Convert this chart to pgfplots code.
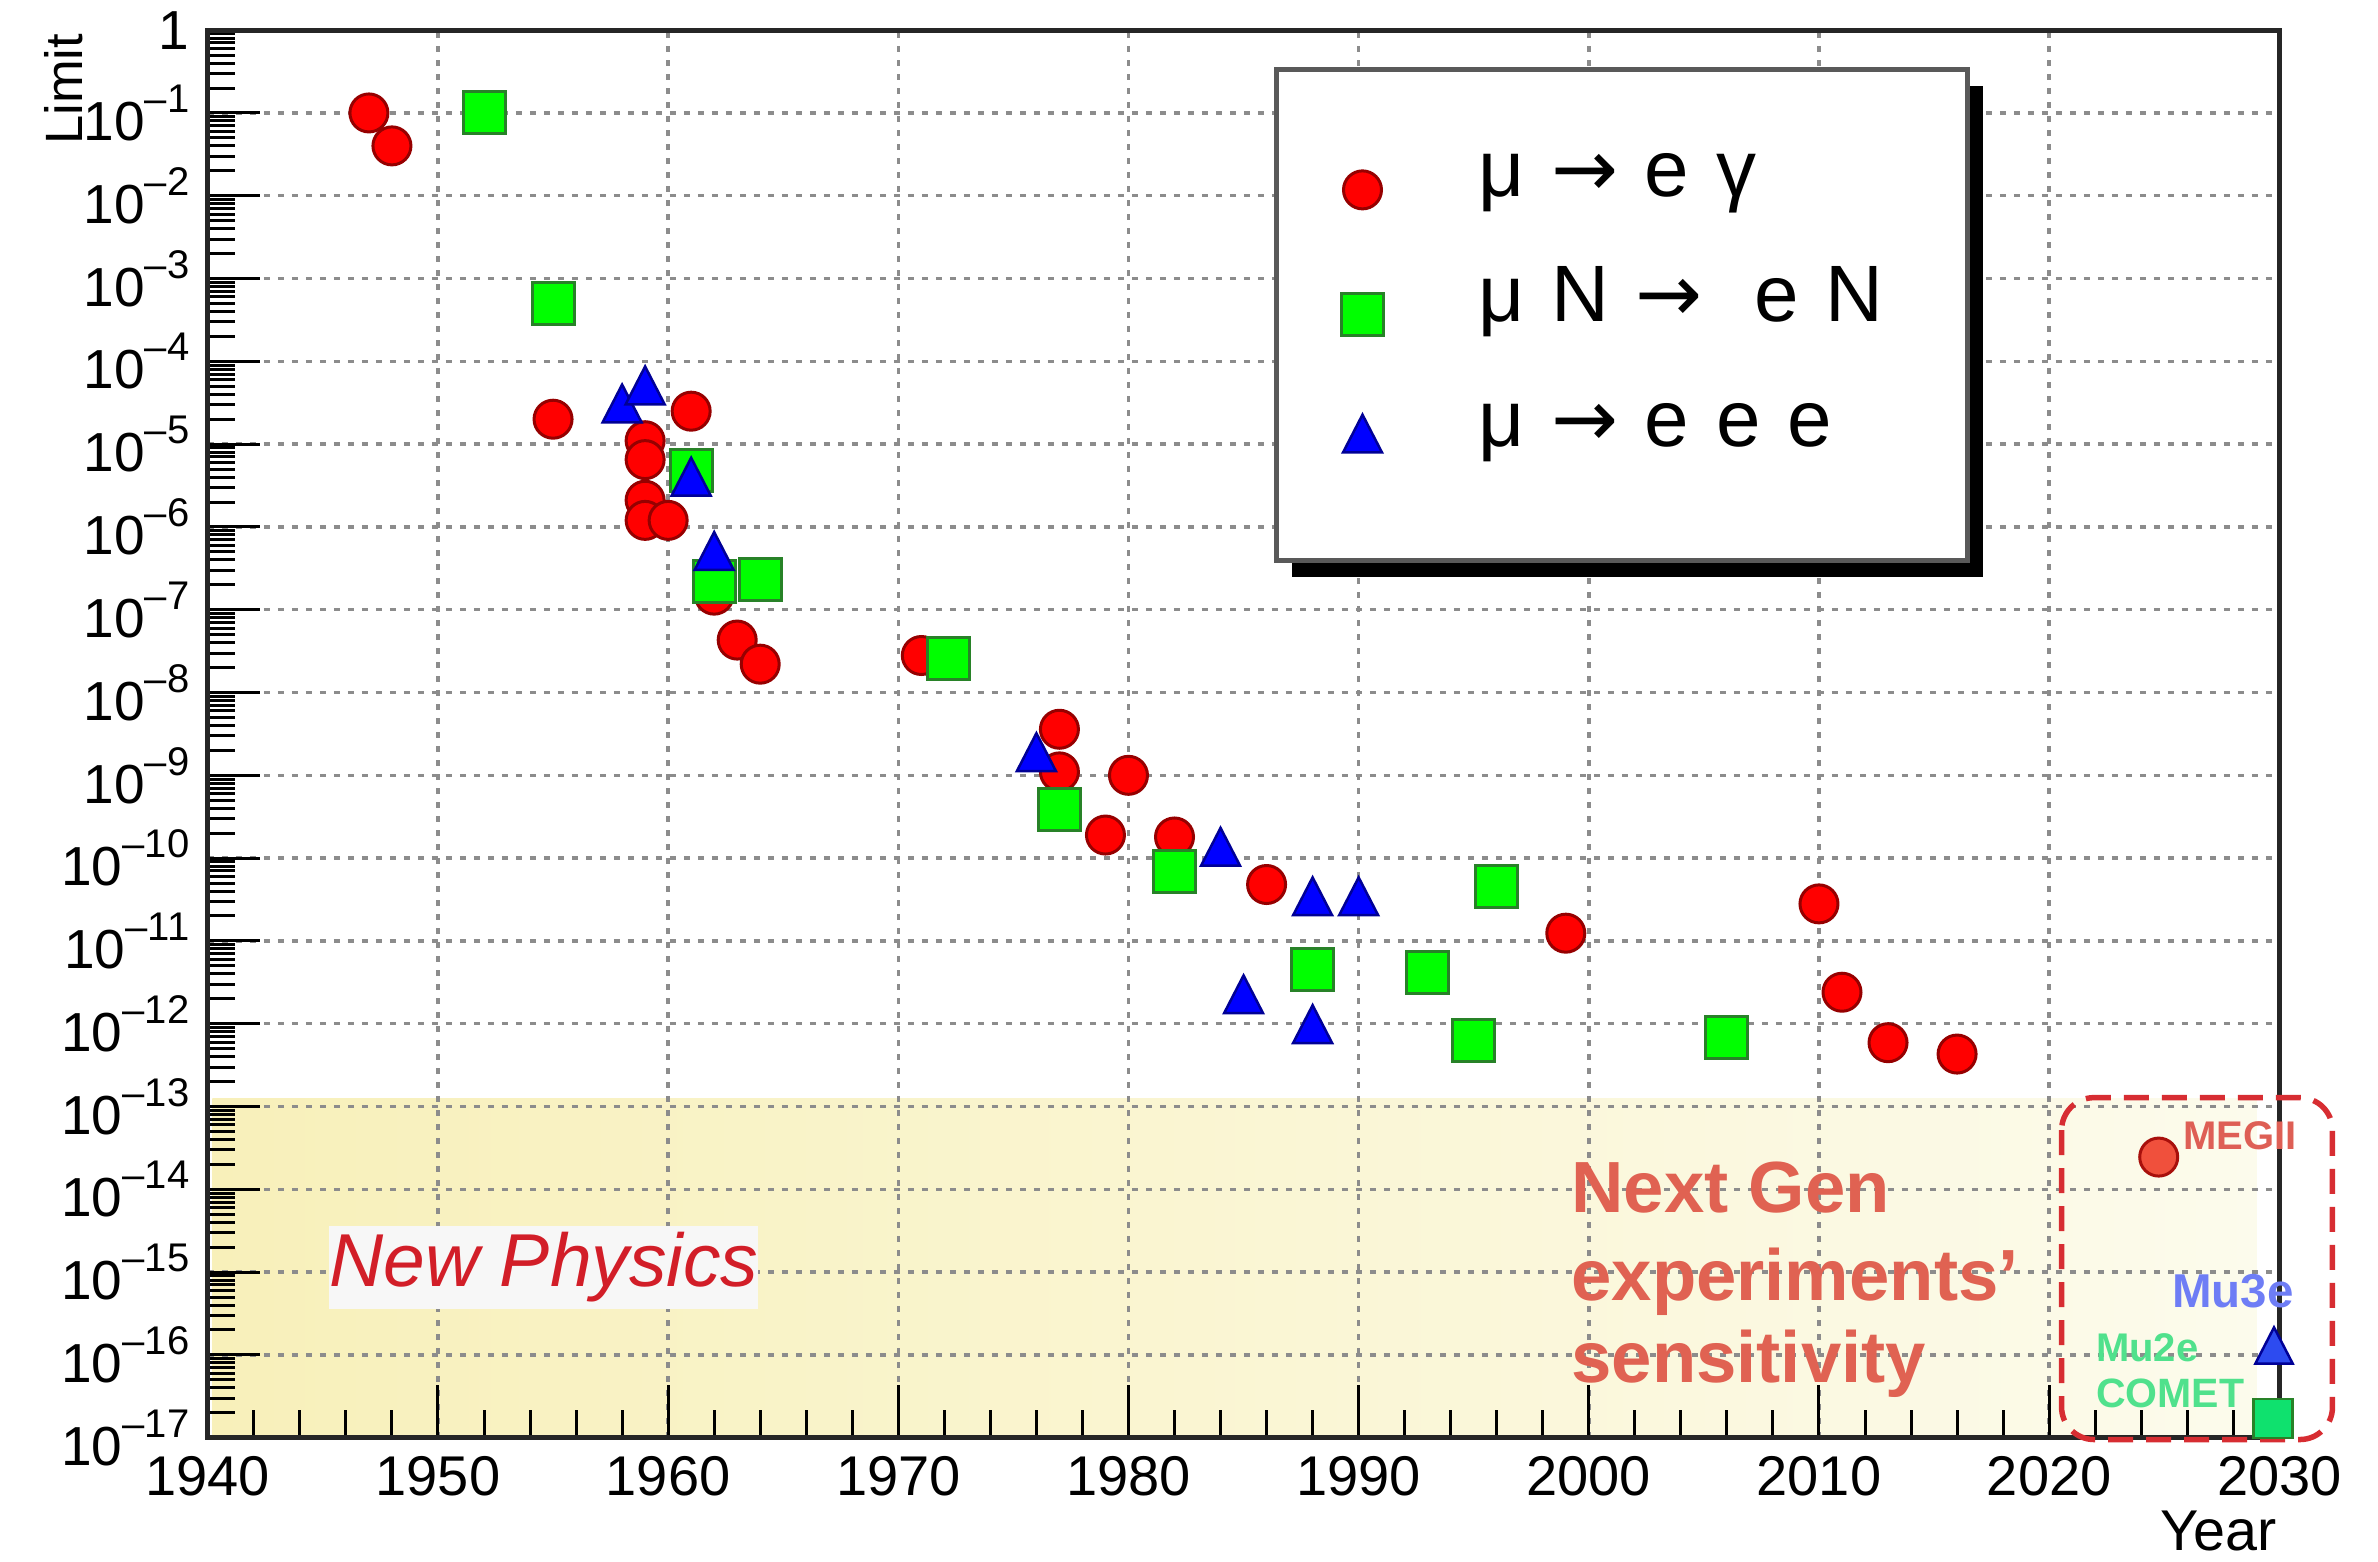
\documentclass[border=0pt]{standalone}
\usepackage{pgfplots}
\pgfplotsset{compat=1.18}
\usepackage{fontspec}
\setmainfont{Liberation Sans}
\newfontfamily\dejavu{DejaVu Sans}
\usetikzlibrary{shadows}

\definecolor{mred}{RGB}{255,0,0}
\definecolor{mredb}{RGB}{150,0,0}
\definecolor{mgreen}{RGB}{0,255,0}
\definecolor{mgreenb}{RGB}{40,130,40}
\definecolor{mblue}{RGB}{0,0,255}
\definecolor{mblueb}{RGB}{0,0,150}
\definecolor{megred}{RGB}{240,80,60}
\definecolor{megtxt}{RGB}{222,95,85}
\definecolor{mu3eblue}{RGB}{45,75,240}
\definecolor{mu3etxt}{RGB}{110,125,245}
\definecolor{mu2egreen}{RGB}{15,225,110}
\definecolor{mu2etxt}{RGB}{80,225,140}
\definecolor{npred}{RGB}{210,30,40}
\definecolor{npbox}{RGB}{247,247,247}
\definecolor{ngred}{RGB}{224,98,82}
\definecolor{boxred}{RGB}{215,45,50}
\definecolor{yelA}{RGB}{248,240,186}
\definecolor{yelB}{RGB}{252,251,236}
\definecolor{gridgray}{RGB}{140,140,140}

\pgfplotsset{mylegend/.style={legend image code/.code={\draw[##1] plot coordinates {(0pt,0pt)};}}}

\newcommand{\pe}[1]{10\raisebox{5.6pt}{\fontsize{8}{9}\selectfont –#1}}

\def\myminor{1}
\foreach \e in {-17,...,-1}{\foreach \m in {2,...,9}{\xdef\myminor{\m e\e,\myminor}}}

\begin{document}%
\begin{tikzpicture}
\begin{axis}[
  at={(41.56pt,24.86pt)}, anchor=south west,
  width=414.3pt, height=281.5pt, scale only axis,
  set layers,
  xmin=1940, xmax=2030, ymode=log, ymin=1e-17, ymax=1,
  xtick={1940,1950,1960,1970,1980,1990,2000,2010,2020,2030},
  xticklabels={1940,1950,1960,1970,1980,1990,2000,2010,2020,2030},
  minor x tick num=4,
  ytick={1e-17,1e-16,1e-15,1e-14,1e-13,1e-12,1e-11,1e-10,1e-9,1e-8,1e-7,1e-6,1e-5,1e-4,1e-3,1e-2,1e-1,1},
  yticklabels={\pe{17},\pe{16},\pe{15},\pe{14},\pe{13},\pe{12},\pe{11},\pe{10},\pe{9},\pe{8},\pe{7},\pe{6},\pe{5},\pe{4},\pe{3},\pe{2},\pe{1},1},
  minor ytick/.expanded={\myminor},
  tick align=inside, xtick pos=left, ytick pos=left,
  major tick length=10.5pt, minor tick length=5.5pt,
  every tick/.append style={black, line width=0.6pt},
  grid=major,
  major grid style={gridgray, line width=0.7pt, dash pattern=on 1.2pt off 1.6pt},
  axis line style={black!85, line width=1pt},
  clip=false,
  xticklabel style={font=\fontsize{11.2}{13}\selectfont, inner sep=0pt, yshift=-3.5pt},
  yticklabel style={font=\fontsize{11}{12}\selectfont, inner sep=0pt, xshift=-3.5pt},
  xlabel={Year},
  xlabel style={font=\fontsize{11.5}{13}\selectfont, at={(axis description cs:0.9705,-0.0800)}, anchor=base, inner sep=0pt},
  ylabel={Limit},
  ylabel style={font=\fontsize{10.5}{12}\selectfont, at={(axis description cs:-0.0695,0.958)}, anchor=center, inner sep=0pt},
  legend cell align=left,
  legend style={
    at={(0.5147,0.9739)}, anchor=north west,
    draw=black!65, line width=1pt, fill=white,
    drop shadow={shadow xshift=3pt, shadow yshift=-3.3pt, fill=black, opacity=1},
    inner xsep=13pt, inner ysep=13.4pt,
    column sep=19pt, row sep=3.6pt,
    font=\fontsize{16}{19}\selectfont,
    nodes={inner sep=0pt, text height=12pt, text depth=9.4pt, text width=84.8pt, align=left},
  },
]
% New physics region
\addplot[forget plot, draw=none, shade, left color=yelA, right color=yelB, on layer=axis background] coordinates {(1940.2,1.25e-13) (2029,1.25e-13) (2029,1e-17) (1940.2,1e-17)} -- cycle;

% mu -> e gamma
\addplot[only marks, mark=*, mark size=3.8pt, mark options={draw=mredb, fill=mred, line width=0.6pt}, mylegend] coordinates {
(1947,1e-1) (1948,4e-2) (1955,2e-5) (1959,1.1e-5) (1959,6.5e-6) (1961,2.5e-5)
(1959,2.1e-6) (1959,1.2e-6) (1960,1.2e-6) (1962,1.5e-7) (1963,4.3e-8) (1964,2.2e-8)
(1971,2.8e-8) (1977,3.6e-9) (1977,1.1e-9) (1980,1.0e-9) (1979,1.9e-10) (1982,1.8e-10)
(1986,4.8e-11) (1999,1.24e-11) (2010,2.8e-11) (2011,2.4e-12) (2013,5.9e-13) (2016,4.3e-13)
};
% mu N -> e N
\addplot[only marks, mark=square*, mark size=4.2pt, mark options={draw=mgreenb, fill=mgreen, line width=0.6pt}, mylegend] coordinates {
(1952,1e-1) (1955,5e-4) (1961,4.8e-6) (1962,2.2e-7) (1964,2.3e-7) (1972.2,2.6e-8)
(1977,3.9e-10) (1982,6.8e-11) (1988,4.5e-12) (1993,4.2e-12) (1995,6.3e-13) (1996,4.6e-11)
(2006,6.9e-13)
};
% mu -> eee
\addplot[only marks, mark=triangle*, mark size=4.5pt, mark options={draw=mblueb, fill=mblue, line width=0.5pt, yscale=1.12}, mylegend] coordinates {
(1958,2.6e-5) (1959,4.3e-5) (1961,3.4e-6) (1962,4.3e-7) (1976,1.6e-9) (1984,1.15e-10)
(1985,1.9e-12) (1988,2.9e-11) (1988,8.3e-13) (1990,2.9e-11)
};
\legend{μ {\dejavu →} e γ, μ N {\dejavu →}\hspace{5pt} e N, μ {\dejavu →} e e e}

% future experiments
\addplot[forget plot, only marks, mark=*, mark size=3.8pt, mark options={draw=mredb!80!megred, fill=megred, line width=0.6pt}] coordinates {(2024.76,2.45e-14)};
\addplot[forget plot, only marks, mark=triangle*, mark size=4.3pt, mark options={draw=mblueb, fill=mu3eblue, line width=0.5pt, yscale=1.12}] coordinates {(2029.77,1.1e-16)};
\addplot[forget plot, only marks, mark=square*, mark size=3.9pt, mark options={draw=mgreenb, fill=mu2egreen, line width=0.5pt}] coordinates {(2029.73,1.7e-17)};

\draw[boxred, line width=1.1pt, dash pattern=on 5pt off 2.6pt, rounded corners=6.5pt] (axis cs:2020.54,1.28e-13) rectangle (axis cs:2032.31,9.5e-18);

\node[fill=npbox, inner sep=0pt, minimum width=85.6pt, minimum height=16.6pt, font=\fontsize{15}{17}\selectfont\itshape, text=npred] at (axis cs:1954.6,1.15e-15) {New Physics};

\node[anchor=base west, inner sep=0pt, font=\fontsize{14.5}{17}\selectfont\bfseries, text=ngred] at (axis cs:1999.2,5.2e-15) {Next Gen};
\node[anchor=base west, inner sep=0pt, font=\fontsize{14.5}{17}\selectfont\bfseries, text=ngred] at (axis cs:1999.2,4.5e-16) {experiments’};
\node[anchor=base west, inner sep=0pt, font=\fontsize{14.5}{17}\selectfont\bfseries, text=ngred] at (axis cs:1999.2,4.6e-17) {sensitivity};

\node[anchor=base west, inner sep=0pt, font=\fontsize{8}{9}\selectfont\bfseries, text=megtxt] at (axis cs:2025.8,3.0e-14) {MEGII};
\node[anchor=base west, inner sep=0pt, font=\fontsize{9.5}{11}\selectfont\bfseries, text=mu3etxt] at (axis cs:2025.3,3.7e-16) {Mu3e};
\node[anchor=base west, inner sep=0pt, font=\fontsize{8}{9}\selectfont\bfseries, text=mu2etxt] at (axis cs:2022.0,8.3e-17) {Mu2e};
\node[anchor=base west, inner sep=0pt, font=\fontsize{8.2}{9}\selectfont\bfseries, text=mu2etxt] at (axis cs:2022.0,2.3e-17) {COMET};
\end{axis}
\pgfresetboundingbox
\path[use as bounding box] (0,0) rectangle (475.6pt,312.4pt);
\end{tikzpicture}%
\end{document}
